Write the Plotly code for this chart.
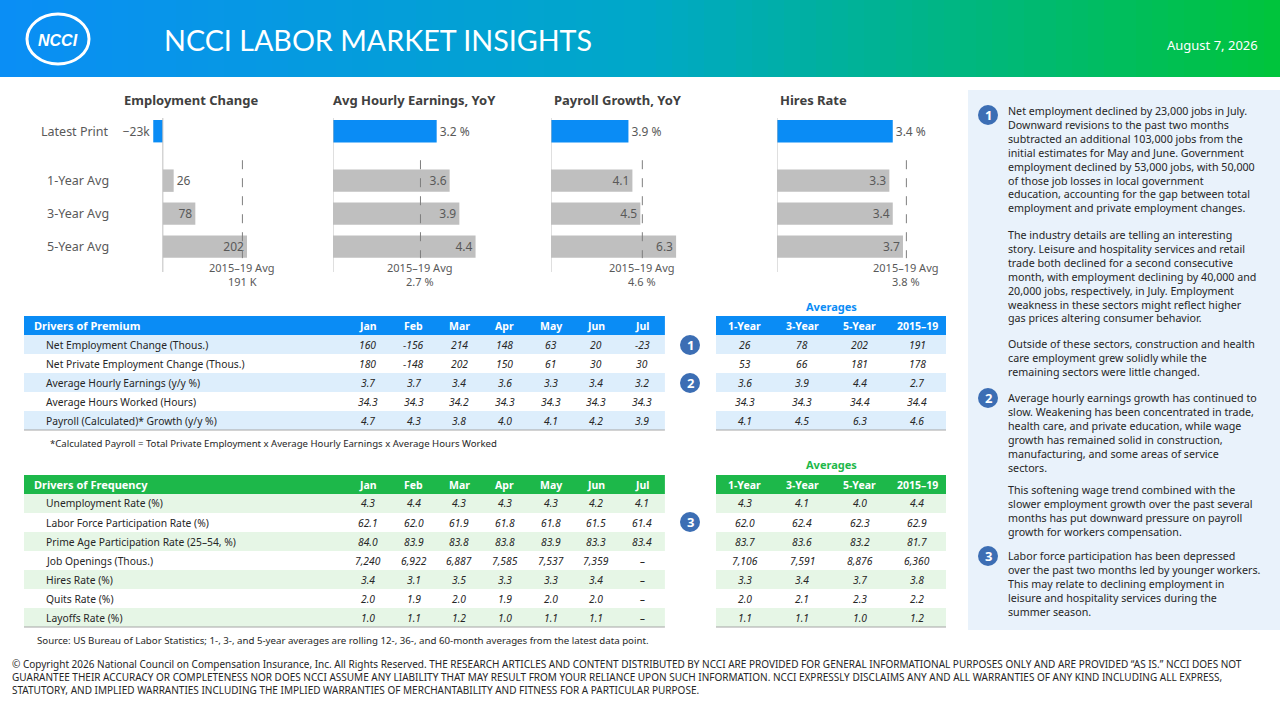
import plotly.graph_objects as go

W, H = 1280, 720
def X(x): return x / W
def Y(y): return 1 - y / H

FONT = "Noto Sans"
GREY = "#595959"

# ---------------- data ----------------
row_labels = ["Latest Print", "1-Year Avg", "3-Year Avg", "5-Year Avg"]
row_pos = [0, 1.5, 2.5, 3.5]
chart_titles = ["Employment Change", "Avg Hourly Earnings, YoY", "Payroll Growth, YoY", "Hires Rate"]
emp_change = [-23, 26, 78, 202]
ahe_yoy = [3.2, 3.6, 3.9, 4.4]
payroll_yoy = [3.9, 4.1, 4.5, 6.3]
hires_rate = [3.4, 3.3, 3.4, 3.7]
avg_2015_19 = [191, 2.7, 4.6, 3.8]
avg_2015_19_labels = ["191 K", "2.7 %", "4.6 %", "3.8 %"]
emp_text = ["−23k", "26", "78", "202"]
ahe_text = ["3.2 %", "3.6", "3.9", "4.4"]
pay_text = ["3.9 %", "4.1", "4.5", "6.3"]
hire_text = ["3.4 %", "3.3", "3.4", "3.7"]

months = ["Jan", "Feb", "Mar", "Apr", "May", "Jun", "Jul"]
avg_cols = ["1-Year", "3-Year", "5-Year", "2015–19"]

prem_labels = ["Net Employment Change (Thous.)", "Net Private Employment Change (Thous.)",
               "Average Hourly Earnings (y/y %)", "Average Hours Worked (Hours)",
               "Payroll (Calculated)* Growth (y/y %)"]
prem_vals = [
    ["160", "−156", "214", "148", "63", "20", "−23"],
    ["180", "−148", "202", "150", "61", "30", "30"],
    ["3.7", "3.7", "3.4", "3.6", "3.3", "3.4", "3.2"],
    ["34.3", "34.3", "34.2", "34.3", "34.3", "34.3", "34.3"],
    ["4.7", "4.3", "3.8", "4.0", "4.1", "4.2", "3.9"],
]
prem_avgs = [
    ["26", "78", "202", "191"],
    ["53", "66", "181", "178"],
    ["3.6", "3.9", "4.4", "2.7"],
    ["34.3", "34.3", "34.4", "34.4"],
    ["4.1", "4.5", "6.3", "4.6"],
]
freq_labels = ["Unemployment Rate (%)", "Labor Force Participation Rate (%)",
               "Prime Age Participation Rate (25–54, %)", "Job Openings (Thous.)",
               "Hires Rate (%)", "Quits Rate (%)", "Layoffs Rate (%)"]
freq_vals = [
    ["4.3", "4.4", "4.3", "4.3", "4.3", "4.2", "4.1"],
    ["62.1", "62.0", "61.9", "61.8", "61.8", "61.5", "61.4"],
    ["84.0", "83.9", "83.8", "83.8", "83.9", "83.3", "83.4"],
    ["7,240", "6,922", "6,887", "7,585", "7,537", "7,359", "–"],
    ["3.4", "3.1", "3.5", "3.3", "3.3", "3.4", "–"],
    ["2.0", "1.9", "2.0", "1.9", "2.0", "2.0", "–"],
    ["1.0", "1.1", "1.2", "1.0", "1.1", "1.1", "–"],
]
freq_avgs = [
    ["4.3", "4.1", "4.0", "4.4"],
    ["62.0", "62.4", "62.3", "62.9"],
    ["83.7", "83.6", "83.2", "81.7"],
    ["7,106", "7,591", "8,876", "6,360"],
    ["3.3", "3.4", "3.7", "3.8"],
    ["2.0", "2.1", "2.3", "2.2"],
    ["1.1", "1.1", "1.0", "1.2"],
]

fig = go.Figure()
shapes, annos = [], []

def txt(x, y, s, size, color="#262626", xanchor="center", family=FONT, yanchor="middle", **kw):
    annos.append(dict(x=X(x), y=Y(y), xref="paper", yref="paper", text=s, showarrow=False,
                      xanchor=xanchor, yanchor=yanchor, font=dict(family=family, size=size, color=color), **kw))

# ---------------- banner ----------------
def lerp(c1, c2, t):
    return tuple(round(a + (b - a) * t) for a, b in zip(c1, c2))
c_left, c_mid, c_right = (10, 142, 245), (0, 168, 200), (0, 196, 60)
N = 80
for i in range(N):
    t = i / (N - 1)
    c = lerp(c_left, c_mid, t * 2) if t < 0.5 else lerp(c_mid, c_right, (t - 0.5) * 2)
    shapes.append(dict(type="rect", xref="paper", yref="paper", x0=X(i * W / N), x1=X((i + 1) * W / N + 1),
                       y0=Y(77), y1=1, fillcolor="rgb(%d,%d,%d)" % c, line_width=0, layer="below"))
shapes.append(dict(type="circle", xref="paper", yref="paper", x0=X(27), x1=X(89), y0=Y(64), y1=Y(14),
                   line=dict(color="white", width=3)))
txt(58, 40, "<b><i>NCCI</i></b>", 16, "white", family="Liberation Sans")
txt(162, 40, "NCCI LABOR MARKET INSIGHTS", 28.7, "white", xanchor="left", family="Lato")
txt(1260, 45, "August 7, 2026", 13, "white", xanchor="right")

# ---------------- bar charts ----------------
series = [emp_change, ahe_yoy, payroll_yoy, hires_rate]
texts = [emp_text, ahe_text, pay_text, hire_text]
ranges = [[-50, 250], [0, 5], [0, 7], [0, 4.2]]
pxdom = [(142, 267), (333, 495), (551, 690), (777, 920)]
title_x = [122, 331, 552, 778]
textpos = [["outside", "outside", "inside", "inside"]] + [["outside", "inside", "inside", "inside"]] * 3
colors = ["#0a8cf5", "#bfbfbf", "#bfbfbf", "#bfbfbf"]
for k in range(4):
    ax = "" if k == 0 else str(k + 1)
    fig.add_trace(go.Bar(x=series[k], y=row_pos, orientation="h", marker=dict(color=colors, line_width=0),
                         width=0.68, text=texts[k], textposition=textpos[k], insidetextanchor="end",
                         textangle=0, constraintext="none",
                         textfont=dict(family=FONT, size=12, color=GREY), cliponaxis=False,
                         xaxis="x" + ax, yaxis="y" + ax, showlegend=False, hoverinfo="skip"))
    fig.update_layout(**{
        "xaxis" + ax: dict(domain=[X(pxdom[k][0]), X(pxdom[k][1])], range=ranges[k], visible=False, anchor="y" + ax),
        "yaxis" + ax: dict(domain=[Y(272), Y(118)], range=[4.27, -0.4], anchor="x" + ax, visible=False),
    })
    shapes.append(dict(type="line", xref="x" + ax, yref="y" + ax + " domain", x0=0, x1=0, y0=0, y1=1,
                       line=dict(color="#bfbfbf", width=1)))
    shapes.append(dict(type="line", xref="x" + ax, yref="y" + ax, x0=avg_2015_19[k], x1=avg_2015_19[k],
                       y0=0.88, y1=3.85, line=dict(color="#7f7f7f", width=1, dash="dash")))
    annos.append(dict(x=avg_2015_19[k], xref="x" + ax, y=Y(267), yref="paper", yanchor="middle",
                      text="2015–19 Avg", showarrow=False, font=dict(family=FONT, size=11, color=GREY)))
    annos.append(dict(x=avg_2015_19[k], xref="x" + ax, y=Y(282), yref="paper", yanchor="middle",
                      text=avg_2015_19_labels[k], showarrow=False, font=dict(family=FONT, size=11, color=GREY)))
    txt(title_x[k], 100, "<b>%s</b>" % chart_titles[k], 13, "#404040", xanchor="left")
for lab, p in zip(row_labels, row_pos):
    annos.append(dict(x=X(111), xref="paper", y=p, yref="y", yanchor="middle", text=lab, xanchor="right",
                      showarrow=False, font=dict(family=FONT, size=12.5, color=GREY)))

# ---------------- tables (drawn with shapes + text) ----------------
RH = 19
def draw_table(x0, col_x0, col_w, ytop, header, labels, rows, hdr_color, alt_color):
    ncol = len(rows[0])
    x1 = col_x0 + col_w * ncol
    shapes.append(dict(type="rect", xref="paper", yref="paper", x0=X(x0), x1=X(x1), y0=Y(ytop + RH), y1=Y(ytop),
                       fillcolor=hdr_color, line_width=0))
    if labels is not None:
        txt(x0 + 8, ytop + RH / 2, "<b>%s</b>" % header[0], 11, "white", xanchor="left")
    hdr_cols = header[1:] if labels is not None else header
    for j, h in enumerate(hdr_cols):
        txt(col_x0 + col_w * (j + 0.5), ytop + RH / 2, "<b>%s</b>" % h, 10.5, "white")
    for i, r in enumerate(rows):
        yc = ytop + RH * (i + 1.5)
        if i % 2 == 0:
            shapes.append(dict(type="rect", xref="paper", yref="paper", x0=X(x0), x1=X(x1),
                               y0=Y(ytop + RH * (i + 2)), y1=Y(ytop + RH * (i + 1)),
                               fillcolor=alt_color, line_width=0, layer="below"))
        if labels is not None:
            txt(x0 + 20, yc, labels[i], 10.3, xanchor="left")
        for j, v in enumerate(r):
            txt(col_x0 + col_w * (j + 0.5), yc, "<i>%s</i>" % v, 10.3)
    yb = ytop + RH * (len(rows) + 1)
    shapes.append(dict(type="line", xref="paper", yref="paper", x0=X(x0), x1=X(x1), y0=Y(yb), y1=Y(yb),
                       line=dict(color="#a6a6a6", width=1)))

blue, lblue = "#0a8cf5", "#ddeefc"
green, lgreen = "#1db84a", "#e6f6e6"
draw_table(24, 345, 45.7, 316, ["Drivers of Premium"] + months, prem_labels, prem_vals, blue, lblue)
draw_table(716, 716, 57.5, 316, avg_cols, None, prem_avgs, blue, lblue)
draw_table(24, 345, 45.7, 475, ["Drivers of Frequency"] + months, freq_labels, freq_vals, green, lgreen)
draw_table(716, 716, 57.5, 475, avg_cols, None, freq_avgs, green, lgreen)

txt(831, 306, "<b>Averages</b>", 11, blue)
txt(831, 464, "<b>Averages</b>", 11, green)

def badge(cx, cy, label):
    shapes.append(dict(type="circle", xref="paper", yref="paper", x0=X(cx - 10), x1=X(cx + 10),
                       y0=Y(cy + 10), y1=Y(cy - 10), fillcolor="#3c6eb4", line_width=0))
    txt(cx, cy, "<b>%s</b>" % label, 13, "white")

badge(690, 345, "1"); badge(690, 383, "2"); badge(690, 522, "3")

txt(48, 443, "*Calculated Payroll = Total Private Employment x Average Hourly Earnings x Average Hours Worked", 9.6,
    xanchor="left")
txt(35, 640, "Source: US Bureau of Labor Statistics; 1-, 3-, and 5-year averages are rolling 12-, 36-, and 60-month averages from the latest data point.",
    9.7, xanchor="left")
txt(10, 677,
    "© Copyright 2026 National Council on Compensation Insurance, Inc. All Rights Reserved. THE RESEARCH ARTICLES AND CONTENT DISTRIBUTED BY NCCI ARE PROVIDED FOR GENERAL INFORMATIONAL PURPOSES ONLY AND ARE PROVIDED “AS IS.” NCCI DOES NOT<br>"
    "GUARANTEE THEIR ACCURACY OR COMPLETENESS NOR DOES NCCI ASSUME ANY LIABILITY THAT MAY RESULT FROM YOUR RELIANCE UPON SUCH INFORMATION. NCCI EXPRESSLY DISCLAIMS ANY AND ALL WARRANTIES OF ANY KIND INCLUDING ALL EXPRESS,<br>"
    "STATUTORY, AND IMPLIED WARRANTIES INCLUDING THE IMPLIED WARRANTIES OF MERCHANTABILITY AND FITNESS FOR A PARTICULAR PURPOSE.",
    10, xanchor="left", align="left")

# ---------------- right panel ----------------
shapes.append(dict(type="rect", xref="paper", yref="paper", x0=X(968), x1=X(1280), y0=Y(630), y1=Y(90),
                   fillcolor="#e9f2fb", line_width=0, layer="below"))
paras = [
    (102, "Net employment declined by 23,000 jobs in July.<br>Downward revisions to the past two months<br>subtracted an additional 103,000 jobs from the<br>initial estimates for May and June. Government<br>employment declined by 53,000 jobs, with 50,000<br>of those job losses in local government<br>education, accounting for the gap between total<br>employment and private employment changes."),
    (226, "The industry details are telling an interesting<br>story. Leisure and hospitality services and retail<br>trade both declined for a second consecutive<br>month, with employment declining by 40,000 and<br>20,000 jobs, respectively, in July. Employment<br>weakness in these sectors might reflect higher<br>gas prices altering consumer behavior."),
    (335, "Outside of these sectors, construction and health<br>care employment grew solidly while the<br>remaining sectors were little changed."),
    (389, "Average hourly earnings growth has continued to<br>slow. Weakening has been concentrated in trade,<br>health care, and private education, while wage<br>growth has remained solid in construction,<br>manufacturing, and some areas of service<br>sectors."),
    (481, "This softening wage trend combined with the<br>slower employment growth over the past several<br>months has put downward pressure on payroll<br>growth for workers compensation."),
    (547, "Labor force participation has been depressed<br>over the past two months led by younger workers.<br>This may relate to declining employment in<br>leisure and hospitality services during the<br>summer season."),
]
for ytop, t in paras:
    txt(1006, ytop, t, 10.7, xanchor="left", yanchor="top", align="left")
badge(988, 115, "1"); badge(988, 398, "2"); badge(988, 556, "3")

fig.update_layout(width=W, height=H, margin=dict(l=0, r=0, t=0, b=0), paper_bgcolor="white",
                  plot_bgcolor="rgba(0,0,0,0)", shapes=shapes, annotations=annos)
fig.write_html("out.html", config={"displayModeBar": False},
               post_script="document.body.style.margin='0';document.body.style.overflow='hidden';")
